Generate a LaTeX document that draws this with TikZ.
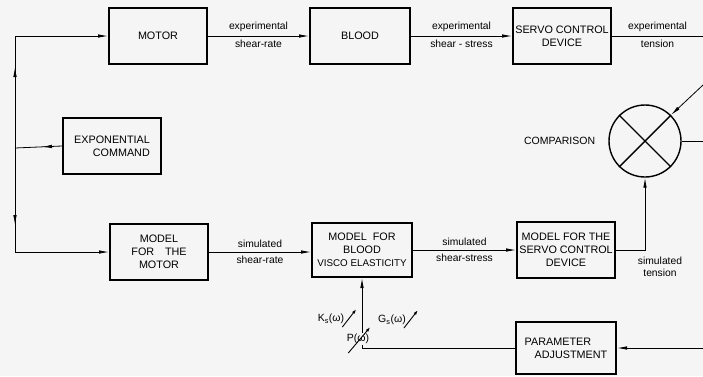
\documentclass[tikz,border=0pt]{standalone}
\usepackage{fontspec}
\setmainfont{Liberation Sans}
\usetikzlibrary{arrows.meta,decorations.markings}
\tikzset{
  block/.style={draw,line width=2pt,minimum width=98pt,minimum height=56pt,
    align=center,inner sep=2pt,font=\fontsize{10.8}{13}\selectfont},
  sig/.style={inner sep=1pt,font=\fontsize{10.3}{11.5}\selectfont},
  flow/.style={line width=0.8pt,-{Latex[length=10pt,width=3.5pt]}},
  midarrow/.style={line width=0.8pt,postaction={decorate},
    decoration={markings,mark=at position #1 with {\arrow{Latex[length=10pt,width=3.5pt]}}}},
  tune/.style={line width=0.9pt,-{Latex[length=5pt,width=3pt]}},
  coef/.style={inner sep=1pt,font=\fontsize{10.5}{12}\selectfont},
}
\begin{document}
\begin{tikzpicture}[x=1pt,y=-1pt]
      \fill[black!4] (0,0) rectangle (703,376);
      \useasboundingbox (0,0) rectangle (703,376);
      \node[block] (motor) at (158,36) {MOTOR};
      \node[block,minimum width=100pt] (blood) at (360,36) {BLOOD};
      \node[block] (servo) at (562,36) {SERVO CONTROL\\DEVICE};
      \node[block,align=right] (cmd) at (112,146) {EXPONENTIAL\\COMMAND};
      \node[block] (mmot) at (159,252) {MODEL\\FOR\quad THE\\MOTOR};
      \node[block,minimum width=100pt,minimum height=54pt] (mbl) at (362,250)
        {MODEL\ \ FOR\\BLOOD\\{\fontsize{9.8}{12}\selectfont VISCO ELASTICITY}};
      \node[block] (msv) at (566,250) {MODEL FOR THE\\SERVO CONTROL\\DEVICE};
      \node[block,minimum width=100pt,minimum height=52pt,align=left] (param) at (566,348) {PARAMETER\\\hspace*{10pt}ADJUSTMENT};
      \node[draw,circle,line width=1.4pt,minimum size=72pt] (cmp) at (645,141) {};
      \node[left=13pt,inner sep=0pt,font=\fontsize{10.5}{12}\selectfont] (cmplab) at (cmp.west) {COMPARISON};
      \node[sig,align=center] (simlab) at (660,267) {simulated\\tension};
      \node[coef] (ks) at (331,319) {K\textsubscript{s}(ω)};
      \node[coef] (gs) at (392,320) {G\textsubscript{s}(ω)};
      \coordinate (bus) at (15,148);
      \coordinate (bustop) at (15,36);
      \coordinate (busbot) at (15,252);
      \coordinate (exout) at (703,36);
      \coordinate (exin) at (703,85);
      \coordinate (cmpout) at (703,141);
      \coordinate (pin) at (703,348);
      \begin{scope}[line width=0.8pt]
        \draw[midarrow=20pt] (cmd.west) -- (bus);
        \draw[midarrow=81pt] (bus) -- (bustop);
        \draw[flow] (bustop) -- (motor);
        \draw[midarrow=77pt] (bus) -- (busbot);
        \draw[flow] (busbot) -- (mmot);
        \draw[flow] (motor) -- node[sig,above=3pt]{experimental} node[sig,below=3pt]{shear-rate} (blood);
        \draw[flow] (blood) -- node[sig,above=3pt]{experimental} node[sig,below=3pt]{shear - stress} (servo);
        \draw (servo) -- node[sig,above=3pt]{experimental} node[sig,below=3pt]{tension} (exout);
        \draw[flow] (mmot) -- node[sig,above=3pt]{simulated} node[sig,below=3pt]{shear-rate} (mmot.east -| mbl.west);
        \draw[flow] (mbl) -- node[sig,above=3pt]{simulated} node[sig,below=3pt]{shear-stress} (msv);
        \draw[flow] (msv.east) -- (msv.east -| cmp.south) -- (cmp.south);
        \draw[flow] (exin) -- (cmp.north east);
        \draw (cmp.east) -- (cmpout);
        \draw[line width=1.4pt] (cmp.north east) -- (cmp.south west);
        \draw[line width=1.4pt] (cmp.north west) -- (cmp.south east);
        \draw[flow] (pin) -- (param);
        \draw[flow] (param.west) -- (param.west -| mbl.south) -- (mbl.south);
      \end{scope}
      \node[coef,fill=black!4] (pp) at (358,339) {P(ω)};
      \draw[tune] ([xshift=-3pt,yshift=-8pt]ks.east) -- ++(14,-18);
      \draw[tune] ([xshift=-22pt,yshift=-14pt]pp.east) -- ++(22,-26);
      \draw[tune] ([xshift=-3pt,yshift=-8pt]gs.east) -- ++(14,-18);
    \end{tikzpicture}
\end{document}
